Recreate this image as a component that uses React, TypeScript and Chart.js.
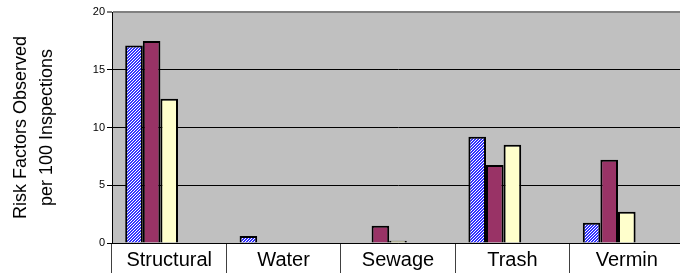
import React, { useEffect, useRef } from 'react';
import { Chart, registerables } from 'chart.js';

Chart.register(...registerables);

const categories = ['Structural', 'Water', 'Sewage', 'Trash', 'Vermin'];
const seriesA: (number | null)[] = [17.1, 0.6, null, 9.2, 1.75];
const seriesB: (number | null)[] = [17.5, null, 1.5, 6.75, 7.2];
const seriesC: (number | null)[] = [12.5, null, 0.2, 8.5, 2.7];
const seriesD: (number | null)[] = [null, null, null, null, null];
const seriesE: (number | null)[] = [null, null, null, null, null];
const yTicks = [0, 5, 10, 15, 20];
const yTitle = ['Risk Factors Observed', 'per 100 Inspections'];

const FONT = "'Liberation Sans', Arial, sans-serif";

function makePattern(): CanvasPattern | string {
  const c = document.createElement('canvas');
  c.width = 3;
  c.height = 3;
  const g = c.getContext('2d');
  if (!g) return '#6666ff';
  g.fillStyle = '#3333ff';
  g.fillRect(0, 0, 3, 3);
  g.fillStyle = '#ffffff';
  for (let x = 0; x < 3; x++) {
    for (let y = 0; y < 3; y++) {
      if ((x + y) % 3 === 0) g.fillRect(x, y, 1, 1);
    }
  }
  return g.createPattern(c, 'repeat') || '#6666ff';
}

const plotBg = {
  id: 'plotBg',
  beforeDraw(chart: any) {
    const { ctx, chartArea } = chart;
    if (!chartArea) return;
    ctx.save();
    ctx.fillStyle = '#c0c0c0';
    ctx.fillRect(chartArea.left, chartArea.top, chartArea.right - chartArea.left, chartArea.bottom - chartArea.top);
    ctx.restore();
  },
};

export default function App() {
  const ref = useRef<HTMLCanvasElement>(null);
  useEffect(() => {
    if (!ref.current) return;
    const pattern = makePattern();
    const common = { borderColor: '#000000', borderWidth: 2, borderSkipped: 'start' as const };
    const chart = new Chart(ref.current, {
      type: 'bar',
      data: {
        labels: categories,
        datasets: [
          { label: 'A', data: seriesA, backgroundColor: pattern as any, ...common },
          { label: 'B', data: seriesB, backgroundColor: '#993366', ...common },
          { label: 'C', data: seriesC, backgroundColor: '#ffffcc', ...common },
          { label: 'D', data: seriesD, backgroundColor: '#ffffff', ...common },
          { label: 'E', data: seriesE, backgroundColor: '#ffffff', ...common },
        ],
      },
      plugins: [plotBg],
      options: {
        animation: false,
        responsive: false,
        devicePixelRatio: 1,
        layout: { padding: { top: 12, left: 0, right: 0, bottom: 0 } },
        plugins: { legend: { display: false }, tooltip: { enabled: false } },
        datasets: { bar: { categoryPercentage: 0.7692, barPercentage: 1 } },
        scales: {
          x: {
            offset: true,
            afterFit: (s: any) => { s.height = 30; },
            grid: {
              display: true,
              drawOnChartArea: false,
              drawTicks: true,
              tickLength: 30,
              color: '#404040',
              offset: true,
            },
            border: { display: true, color: '#000000', width: 1 },
            ticks: { color: '#000000', font: { family: FONT, size: 20 }, padding: -25 },
          },
          y: {
            min: 0,
            max: 20,
            afterFit: (s: any) => { s.width = 112; },
            afterBuildTicks: (s: any) => { s.ticks = yTicks.map((v) => ({ value: v })); },
            grid: {
              color: (c: any) => (c.tick && c.tick.value === 20 ? '#808080' : '#000000'),
              lineWidth: (c: any) => (c.tick && c.tick.value === 20 ? 2 : 1),
              tickLength: 5,
              tickColor: '#000000',
              tickWidth: 1,
            },
            border: { display: true, color: '#000000', width: 1 },
            ticks: { color: '#000000', font: { family: FONT, size: 11 }, padding: 2 },
            title: {
              display: true,
              text: yTitle,
              color: '#000000',
              font: { family: FONT, size: 18, lineHeight: '26px' },
              padding: { top: 8, bottom: 0 },
            },
          },
        },
      },
    });
    return () => chart.destroy();
  }, []);
  return (
    <div style={{ position: 'fixed', left: 0, top: 0, width: 684, height: 273 }}>
      <canvas ref={ref} width={684} height={273} style={{ width: 684, height: 273, display: 'block' }} />
    </div>
  );
}
